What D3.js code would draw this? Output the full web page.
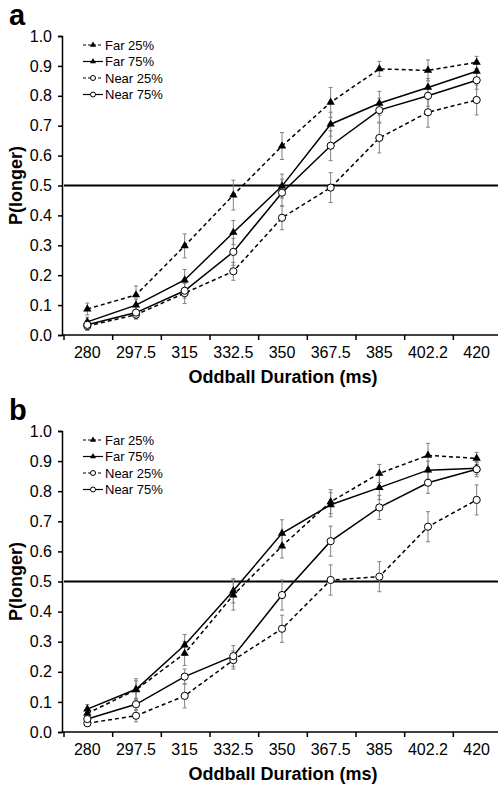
<!DOCTYPE html>
<html>
  <head>
    <meta charset="UTF-8" />
    <script src="https://d3js.org/d3.v7.min.js"></script>
    <style>
      body { margin: 0; background: #fff; }
      text { font-family: "Liberation Sans", Arial, sans-serif; }
    </style>
  </head>
  <body>
    <div id="my_dataviz"></div>

    <script>
      var width = 498,
        height = 787;

      // categories and tick labels
      const durations = ["280", "297.5", "315", "332.5", "350", "367.5", "385", "402.2", "420"];
      const seriesNames = ["Far 25%", "Far 75%", "Near 25%", "Near 75%"];
      const yTicks = [0, 0.1, 0.2, 0.3, 0.4, 0.5, 0.6, 0.7, 0.8, 0.9, 1.0];

      // panel a
      const aFar25 = [0.087, 0.134, 0.298, 0.468, 0.632, 0.778, 0.89, 0.885, 0.912];
      const aFar75 = [0.044, 0.1, 0.184, 0.343, 0.498, 0.705, 0.775, 0.828, 0.882];
      const aNear25 = [0.03, 0.068, 0.14, 0.213, 0.392, 0.493, 0.659, 0.745, 0.786];
      const aNear75 = [0.034, 0.075, 0.148, 0.278, 0.476, 0.633, 0.752, 0.8, 0.852];
      const aFar25Err = [0.02, 0.03, 0.04, 0.05, 0.045, 0.05, 0.025, 0.035, 0.02];
      const aFar75Err = [0.015, 0.02, 0.035, 0.04, 0.04, 0.04, 0.04, 0.03, 0.025];
      const aNear25Err = [0.015, 0.015, 0.035, 0.03, 0.04, 0.05, 0.05, 0.05, 0.05];
      const aNear75Err = [0.015, 0.02, 0.025, 0.045, 0.045, 0.05, 0.04, 0.035, 0.03];

      // panel b
      const bFar25 = [0.062, 0.14, 0.261, 0.455, 0.618, 0.765, 0.859, 0.919, 0.909];
      const bFar75 = [0.076, 0.142, 0.289, 0.469, 0.66, 0.755, 0.812, 0.87, 0.876];
      const bNear25 = [0.029, 0.054, 0.12, 0.239, 0.343, 0.505, 0.516, 0.682, 0.771];
      const bNear75 = [0.043, 0.092, 0.184, 0.252, 0.455, 0.634, 0.746, 0.828, 0.873];
      const bFar25Err = [0.015, 0.03, 0.04, 0.05, 0.04, 0.04, 0.03, 0.04, 0.02];
      const bFar75Err = [0.015, 0.035, 0.035, 0.04, 0.045, 0.04, 0.04, 0.03, 0.02];
      const bNear25Err = [0.01, 0.02, 0.04, 0.03, 0.045, 0.05, 0.05, 0.05, 0.05];
      const bNear75Err = [0.015, 0.02, 0.025, 0.035, 0.05, 0.05, 0.04, 0.035, 0.025];

      // style per series: dashed?, marker
      const styles = [
        { dash: "4,3", marker: "tri" },
        { dash: null, marker: "tri" },
        { dash: "4,3", marker: "circ" },
        { dash: null, marker: "circ" },
      ];

      var svg = d3
        .select("#my_dataviz")
        .append("svg")
        .attr("width", width)
        .attr("height", height);

      var x = d3.scaleBand().domain(durations).range([63, 501]).padding(0);

      function drawMarker(g, kind, cx, cy, small) {
        if (kind === "tri") {
          g.append("path")
            .attr("d", d3.symbol().type(d3.symbolTriangle).size(small ? 16 : 30)())
            .attr("transform", "translate(" + cx + "," + cy + ")")
            .attr("fill", "black");
        } else {
          g.append("circle")
            .attr("cx", cx)
            .attr("cy", cy)
            .attr("r", small ? 2.5 : 3.6)
            .attr("fill", "white")
            .attr("stroke", "black")
            .attr("stroke-width", 1);
        }
      }

      function drawPanel(top, bottom, label, values, errors) {
        var y = d3.scaleLinear().domain([0, 1]).range([bottom, top]);
        var g = svg.append("g");

        // panel letter
        g.append("text")
          .attr("x", 9)
          .attr("y", top - 11)
          .attr("font-size", 29)
          .attr("font-weight", "bold")
          .text(label);

        // y axis
        var yAxis = g
          .append("g")
          .attr("transform", "translate(62,0)")
          .call(
            d3.axisLeft(y).tickValues(yTicks).tickFormat(d3.format(".1f")).tickSize(4).tickPadding(6)
          );
        yAxis.select(".domain").attr("stroke-width", 1.5);
        yAxis.selectAll(".tick line").attr("stroke-width", 1.5);
        yAxis.selectAll("text").attr("font-size", 16).attr("font-family", "Liberation Sans, Arial, sans-serif");

        // x axis: ticks at band edges, labels at centers
        var xg = g.append("g");
        xg.append("line")
          .attr("x1", 62)
          .attr("x2", width)
          .attr("y1", bottom)
          .attr("y2", bottom)
          .attr("stroke", "black")
          .attr("stroke-width", 1.5);
        xg.selectAll(".xt")
          .data(durations)
          .join("line")
          .attr("x1", (d) => x(d) + 1)
          .attr("x2", (d) => x(d) + 1)
          .attr("y1", bottom)
          .attr("y2", bottom + 5)
          .attr("stroke", "black")
          .attr("stroke-width", 1.5);
        xg.selectAll(".xl")
          .data(durations)
          .join("text")
          .attr("x", (d) => x(d) + x.bandwidth() / 2)
          .attr("y", bottom + 23)
          .attr("text-anchor", "middle")
          .attr("font-size", 16)
          .text((d) => d);

        g.append("text")
          .attr("x", 283)
          .attr("y", bottom + 48)
          .attr("text-anchor", "middle")
          .attr("font-size", 18)
          .attr("font-weight", "bold")
          .text("Oddball Duration (ms)");

        g.append("text")
          .attr("transform", "translate(22," + (top + bottom) / 2 + ") rotate(-90)")
          .attr("text-anchor", "middle")
          .attr("font-size", 18)
          .attr("font-weight", "bold")
          .text("P(longer)");

        // 0.5 reference line
        g.append("line")
          .attr("x1", 64)
          .attr("x2", width)
          .attr("y1", y(0.5))
          .attr("y2", y(0.5))
          .attr("stroke", "black")
          .attr("stroke-width", 2);

        var cx = (i) => x(durations[i]) + x.bandwidth() / 2;

        // error bars
        values.forEach(function (vals, s) {
          var eg = g.append("g").attr("stroke", "#808080").attr("stroke-width", 1);
          vals.forEach(function (v, i) {
            var e = errors[s][i];
            eg.append("line").attr("x1", cx(i)).attr("x2", cx(i)).attr("y1", y(v - e)).attr("y2", y(v + e));
            eg.append("line").attr("x1", cx(i) - 2).attr("x2", cx(i) + 2).attr("y1", y(v - e)).attr("y2", y(v - e));
            eg.append("line").attr("x1", cx(i) - 2).attr("x2", cx(i) + 2).attr("y1", y(v + e)).attr("y2", y(v + e));
          });
        });

        // lines
        var line = d3
          .line()
          .x((d, i) => cx(i))
          .y((d) => y(d));
        values.forEach(function (vals, s) {
          g.append("path")
            .attr("d", line(vals))
            .attr("fill", "none")
            .attr("stroke", "black")
            .attr("stroke-width", 1.5)
            .attr("stroke-dasharray", styles[s].dash);
        });

        // markers
        values.forEach(function (vals, s) {
          var mg = g.append("g");
          vals.forEach(function (v, i) {
            drawMarker(mg, styles[s].marker, cx(i), y(v), false);
          });
        });

        // legend
        var offsets = [9, 25.5, 42, 58.5];
        var lg = g.append("g");
        seriesNames.forEach(function (name, s) {
          var ly = top + offsets[s];
          lg.append("line")
            .attr("x1", 83)
            .attr("x2", 103)
            .attr("y1", ly)
            .attr("y2", ly)
            .attr("stroke", "black")
            .attr("stroke-width", 1.2)
            .attr("stroke-dasharray", styles[s].dash ? "3,2" : null);
          drawMarker(lg, styles[s].marker, 93, ly, true);
          lg.append("text")
            .attr("x", 105)
            .attr("y", ly + 4.5)
            .attr("font-size", 13)
            .text(name);
        });
      }

      drawPanel(36, 335, "a", [aFar25, aFar75, aNear25, aNear75], [aFar25Err, aFar75Err, aNear25Err, aNear75Err]);
      drawPanel(431, 732, "b", [bFar25, bFar75, bNear25, bNear75], [bFar25Err, bFar75Err, bNear25Err, bNear75Err]);
    </script>
  </body>
</html>
